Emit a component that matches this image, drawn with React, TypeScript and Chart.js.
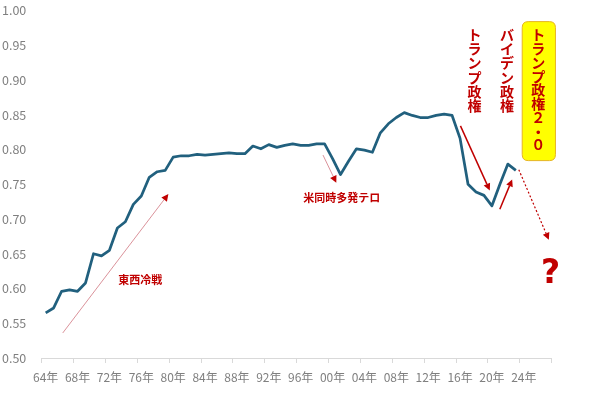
import React, { useEffect, useRef } from 'react';
import { Chart, registerables } from 'chart.js';

Chart.register(...registerables);

// Categories (years) 1964 - 2027
const categories: string[] = [
  '1964', '1965', '1966', '1967', '1968', '1969', '1970', '1971',
  '1972', '1973', '1974', '1975', '1976', '1977', '1978', '1979',
  '1980', '1981', '1982', '1983', '1984', '1985', '1986', '1987',
  '1988', '1989', '1990', '1991', '1992', '1993', '1994', '1995',
  '1996', '1997', '1998', '1999', '2000', '2001', '2002', '2003',
  '2004', '2005', '2006', '2007', '2008', '2009', '2010', '2011',
  '2012', '2013', '2014', '2015', '2016', '2017', '2018', '2019',
  '2020', '2021', '2022', '2023', '2024', '2025', '2026', '2027',
];

// Series values (1964 - 2023)
const seriesValues: number[] = [
  0.565, 0.572, 0.596, 0.598, 0.596, 0.608, 0.650, 0.647,
  0.655, 0.687, 0.696, 0.721, 0.733, 0.760, 0.768, 0.770,
  0.789, 0.791, 0.791, 0.793, 0.792, 0.793, 0.794, 0.795,
  0.794, 0.794, 0.805, 0.801, 0.807, 0.803, 0.806, 0.808,
  0.806, 0.806, 0.808, 0.808, 0.787, 0.764, 0.783, 0.801,
  0.799, 0.796, 0.824, 0.837, 0.846, 0.853, 0.849, 0.846,
  0.846, 0.849, 0.851, 0.849, 0.816, 0.750, 0.739, 0.734,
  0.719, 0.750, 0.779, 0.770,
];

// X tick labels, one every 4 categories
const xTickLabels: string[] = [
  '64年', '68年', '72年', '76年', '80年', '84年', '88年', '92年',
  '96年', '00年', '04年', '08年', '12年', '16年', '20年', '24年',
];

// Y axis range
const yMin = 0.5;
const yMax = 1.0;
const yStep = 0.05;

// Annotations, in data units: [category index, value]
const arrowNotes = [
  { from: [2.14, 0.536], to: [15.4, 0.736], line: 'rgba(205,110,120,0.75)', head: '#c00000', width: 1, dash: [] as number[] },
  { from: [34.8, 0.792], to: [36.47, 0.752], line: 'rgba(205,110,120,0.75)', head: '#c00000', width: 1, dash: [] as number[] },
  { from: [52.05, 0.834], to: [55.73, 0.741], line: '#c00000', head: '#c00000', width: 1.5, dash: [] as number[] },
  { from: [56.99, 0.714], to: [58.54, 0.757], line: '#c00000', head: '#c00000', width: 1.5, dash: [] as number[] },
  { from: [59.37, 0.771], to: [63.14, 0.670], line: '#c00000', head: '#c00000', width: 1.2, dash: [2, 2] },
];

const textNotes = [
  { text: '東西冷戦', at: [11.86, 0.613], size: 11 },
  { text: '米同時多発テロ', at: [37.16, 0.730], size: 11 },
];

const verticalNotes = [
  { text: 'トランプ政権', x: 53.8, top: 0.976, bottom: 0.852, size: 14 },
  { text: 'バイデン政権', x: 57.9, top: 0.976, bottom: 0.852, size: 14 },
];

const boxNote = {
  text: 'トランプ政権２・０', x: 61.8, top: 0.9748, bottom: 0.7963, size: 14,
  box: { x0: 59.8, x1: 63.97, v0: 0.984, v1: 0.784 },
};

const questionNote = { text: '?', at: [63.36, 0.620], size: 33 };

const RED = '#c00000';
const JP_FONT = '"Noto Sans CJK JP", "Noto Sans", sans-serif';

const annotationPlugin = {
  id: 'annotations',
  afterDraw(chart: any) {
    const { ctx, scales } = chart;
    const xs = scales.x;
    const ys = scales.y;
    const px = (i: number) => xs.getPixelForValue(i);
    const py = (v: number) => ys.getPixelForValue(v);

    ctx.save();
    // arrows
    for (const a of arrowNotes) {
      const x0 = px(a.from[0]);
      const y0 = py(a.from[1]);
      const x1 = px(a.to[0]);
      const y1 = py(a.to[1]);
      const ang = Math.atan2(y1 - y0, x1 - x0);
      const hl = 7;
      const hw = 3.5;
      const bx = x1 - hl * Math.cos(ang);
      const by = y1 - hl * Math.sin(ang);
      ctx.beginPath();
      ctx.setLineDash(a.dash);
      ctx.strokeStyle = a.line;
      ctx.lineWidth = a.width;
      ctx.moveTo(x0, y0);
      ctx.lineTo(bx, by);
      ctx.stroke();
      ctx.setLineDash([]);
      ctx.beginPath();
      ctx.fillStyle = a.head;
      ctx.moveTo(x1, y1);
      ctx.lineTo(bx + hw * Math.sin(ang), by - hw * Math.cos(ang));
      ctx.lineTo(bx - hw * Math.sin(ang), by + hw * Math.cos(ang));
      ctx.closePath();
      ctx.fill();
    }

    // horizontal texts
    ctx.fillStyle = RED;
    ctx.textAlign = 'center';
    ctx.textBaseline = 'middle';
    for (const t of textNotes) {
      ctx.font = `bold ${t.size}px ${JP_FONT}`;
      ctx.fillText(t.text, px(t.at[0]), py(t.at[1]));
    }

    // vertical texts
    const drawVertical = (text: string, x: number, top: number, bottom: number, size: number) => {
      const chars = Array.from(text);
      const yTop = py(top);
      const yBot = py(bottom);
      const step = (yBot - yTop) / chars.length;
      ctx.font = `bold ${size}px ${JP_FONT}`;
      ctx.fillStyle = RED;
      chars.forEach((c, k) => {
        ctx.fillText(c, px(x), yTop + step * (k + 0.5));
      });
    };
    for (const v of verticalNotes) drawVertical(v.text, v.x, v.top, v.bottom, v.size);

    // yellow box
    const bx0 = px(boxNote.box.x0);
    const bx1 = px(boxNote.box.x1);
    const by0 = py(boxNote.box.v0);
    const by1 = py(boxNote.box.v1);
    const r = 6;
    ctx.beginPath();
    ctx.moveTo(bx0 + r, by0);
    ctx.lineTo(bx1 - r, by0);
    ctx.quadraticCurveTo(bx1, by0, bx1, by0 + r);
    ctx.lineTo(bx1, by1 - r);
    ctx.quadraticCurveTo(bx1, by1, bx1 - r, by1);
    ctx.lineTo(bx0 + r, by1);
    ctx.quadraticCurveTo(bx0, by1, bx0, by1 - r);
    ctx.lineTo(bx0, by0 + r);
    ctx.quadraticCurveTo(bx0, by0, bx0 + r, by0);
    ctx.closePath();
    ctx.fillStyle = '#ffff00';
    ctx.fill();
    ctx.strokeStyle = '#e6b422';
    ctx.lineWidth = 1;
    ctx.stroke();
    drawVertical(boxNote.text, boxNote.x, boxNote.top, boxNote.bottom, boxNote.size);

    // question mark
    ctx.font = `bold ${questionNote.size}px "DejaVu Sans", sans-serif`;
    ctx.fillStyle = RED;
    ctx.fillText(questionNote.text, px(questionNote.at[0]), py(questionNote.at[1]));
    ctx.restore();
  },
};

export default function App() {
  const canvasRef = useRef<HTMLCanvasElement | null>(null);

  useEffect(() => {
    if (!canvasRef.current) return;
    const chart = new Chart(canvasRef.current, {
      type: 'line',
      data: {
        labels: categories,
        datasets: [
          {
            data: seriesValues,
            borderColor: '#21607e',
            borderWidth: 2.75,
            pointRadius: 0,
            tension: 0,
            fill: false,
            borderJoinStyle: 'round',
          },
        ],
      },
      options: {
        animation: false,
        responsive: false,
        maintainAspectRatio: false,
        devicePixelRatio: 1,
        layout: { padding: { left: 2, right: 48.3, top: 8, bottom: 0 } },
        plugins: { legend: { display: false }, tooltip: { enabled: false } },
        scales: {
          x: {
            type: 'category',
            offset: true,
            afterFit: (scale: any) => { scale.height = 36; },
            grid: {
              display: true,
              offset: true,
              drawOnChartArea: false,
              drawTicks: true,
              tickLength: 5,
              color: (c: any) => (c.index === undefined || c.index % 4 === 0 ? '#d9d9d9' : 'rgba(0,0,0,0)'),
            },
            border: { display: true, color: '#d9d9d9', width: 1 },
            ticks: {
              autoSkip: false,
              maxRotation: 0,
              minRotation: 0,
              padding: 7,
              color: '#7f7f7f',
              font: { size: 12, family: JP_FONT },
              callback: (_v: any, idx: number) => (idx % 4 === 0 ? xTickLabels[idx / 4] : ''),
            },
          },
          y: {
            min: yMin,
            max: yMax,
            afterFit: (scale: any) => { scale.width = 39.7; },
            grid: { display: false },
            border: { display: false },
            ticks: {
              stepSize: yStep,
              crossAlign: 'far',
              color: '#7f7f7f',
              font: { size: 12.5, family: JP_FONT },
              callback: (v: any) => Number(v).toFixed(2),
            },
          },
        },
      },
      plugins: [annotationPlugin],
    } as any);
    return () => chart.destroy();
  }, []);

  return (
    <div style={{ position: 'fixed', left: 0, top: 0, width: 600, height: 394, background: '#ffffff' }}>
      <canvas ref={canvasRef} width={600} height={394} style={{ display: 'block', width: 600, height: 394 }} />
    </div>
  );
}
